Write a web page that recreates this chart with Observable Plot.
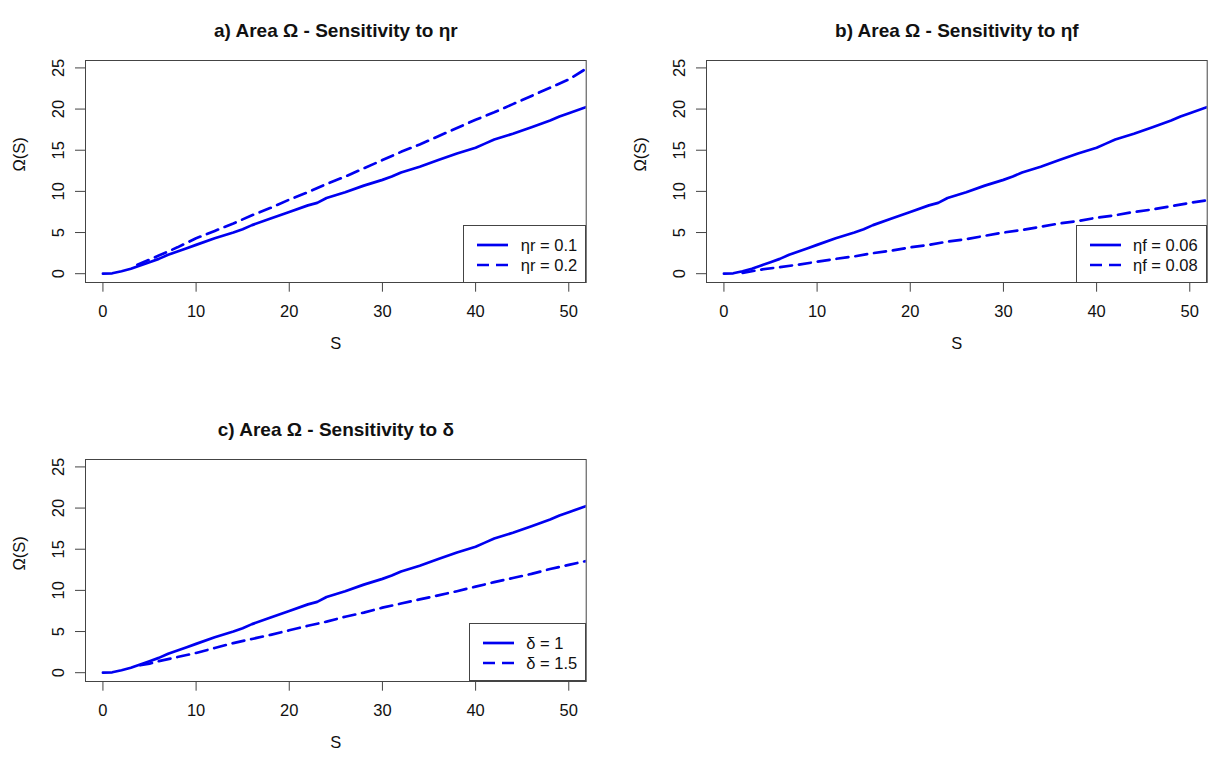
<!DOCTYPE html>
<html><head><meta charset="utf-8">
<script src="https://cdn.jsdelivr.net/npm/d3@7"></script>
<script src="https://cdn.jsdelivr.net/npm/@observablehq/plot@0.6"></script>
<style>
body{margin:0;background:#fff;}
#fig{position:relative;width:1209px;height:757px;overflow:hidden;font-family:"Liberation Sans",Arial,sans-serif;}
.panel{position:absolute;}
.panel svg{overflow:visible;}
.legend{position:absolute;box-sizing:border-box;border:1px solid #444;background:#fff;padding:9px 8px 8px 13px;font-size:16.5px;color:#111;line-height:20px;}
.row{display:flex;align-items:center;height:20px;white-space:nowrap;}
.row svg{margin-right:12.5px;display:block;}
</style></head><body><div id="fig"></div>
<script>
// ---- data ----
const xTicks = [0, 10, 20, 30, 40, 50];
const yTicks = [0, 5, 10, 15, 20, 25];
const titles = ["a) Area Ω - Sensitivity to ηr", "b) Area Ω - Sensitivity to ηf", "c) Area Ω - Sensitivity to δ"];
const baseLabels = ["ηr = 0.1", "ηf = 0.06", "δ = 1"];
const altLabels = ["ηr = 0.2", "ηf = 0.08", "δ = 1.5"];

// baseline curve (same in all panels)
const baseS = [0,1,2,3,4,5,6,7,8,9,10,12,14,15,16,18,20,22,23,24,26,28,30,31,32,34,36,38,40,41,42,44,46,48,49,50,52];
const baseOmega = [0,0.05,0.3,0.6,1.0,1.4,1.8,2.3,2.7,3.1,3.5,4.3,5.0,5.4,5.9,6.7,7.5,8.3,8.6,9.2,9.9,10.7,11.4,11.8,12.3,13.0,13.8,14.6,15.3,15.8,16.3,17.0,17.8,18.6,19.1,19.5,20.3];

// a) eta_r = 0.2
const etaR2S = [3.7,5,6,8,10,12,14,16,18,20,22,24,26,28,30,32,34,36,38,40,42,44,46,48,50,52];
const etaR2Omega = [1.1,1.7,2.2,3.2,4.3,5.2,6.1,7.1,8.0,9.0,9.9,10.9,11.8,12.8,13.8,14.8,15.7,16.7,17.7,18.7,19.6,20.6,21.6,22.6,23.6,25.0];

// b) eta_f = 0.08
const etaF8S = [2,3,4,6,8,10,12,14,16,18,20,22,24,26,28,30,32,34,36,38,40,42,44,46,48,50,52];
const etaF8Omega = [0.1,0.3,0.5,0.8,1.1,1.45,1.8,2.1,2.5,2.8,3.2,3.5,3.9,4.2,4.6,5.0,5.3,5.7,6.1,6.4,6.8,7.1,7.5,7.8,8.2,8.6,8.95];

// c) delta = 1.5
const delta15S = [4,5,6,8,10,12,14,16,18,20,22,24,26,28,30,32,34,36,38,40,42,44,46,48,50,52];
const delta15Omega = [0.9,1.1,1.4,1.9,2.4,3.0,3.6,4.1,4.6,5.15,5.7,6.2,6.8,7.3,7.9,8.4,8.9,9.4,9.9,10.45,11.0,11.5,12.0,12.6,13.1,13.6];

// ---- build ----
const rows = (S, O) => S.map((s, i) => ({S: s, omega: O[i]}));
const baseRows = rows(baseS, baseOmega);
const altRows = [rows(etaR2S, etaR2Omega), rows(etaF8S, etaF8Omega), rows(delta15S, delta15Omega)];

const BLUE = "#0000f0";
const LW = 2.7;
const DASH = "12,7";
const FS = 16.5;
const xDomain = [-1.87, 51.87];
const yDomain = [-1.07, 25.9];

const layout = [
  {left: 0, top: 0, width: 605, height: 378},
  {left: 620.5, top: 0, width: 588.5, height: 378},
  {left: 0, top: 398.5, width: 605, height: 358.5}
];
const ML = 85, MT = 60, IW = 500.7, IH = 222;

const fig = document.getElementById("fig");

layout.forEach((L, k) => {
  const div = document.createElement("div");
  div.className = "panel";
  div.style.left = L.left + "px";
  div.style.top = L.top + "px";
  div.style.width = L.width + "px";
  div.style.height = L.height + "px";
  const mr = L.width - ML - IW;
  const mb = L.height - MT - IH;
  const plot = Plot.plot({
    width: L.width, height: L.height,
    marginLeft: ML, marginRight: mr, marginTop: MT, marginBottom: mb,
    x: {domain: xDomain, label: null},
    y: {domain: yDomain, label: null},
    style: {fontFamily: '"Liberation Sans", Arial, sans-serif', fontSize: FS + "px", background: "transparent", color: "#000"},
    marks: [
      Plot.line(baseRows, {x: "S", y: "omega", stroke: BLUE, strokeWidth: LW, clip: true, strokeLinejoin: "round"}),
      Plot.line(altRows[k], {x: "S", y: "omega", stroke: BLUE, strokeWidth: LW, strokeDasharray: DASH, clip: true}),
      Plot.frame({stroke: "#444", strokeWidth: 1}),
      Plot.axisX({ticks: xTicks, tickSize: 9.7, tickPadding: 13.5, fontSize: FS, stroke: "#444", fill: "#111", label: null}),
      Plot.axisY({ticks: yTicks, tickSize: 10, tickPadding: 11.5, tickRotate: -90, fontSize: FS, stroke: "#444", fill: "#111", label: null}),
      Plot.text([titles[k]], {frameAnchor: "top", dy: -37.3, fontWeight: "bold", fontSize: 19, fill: "#111"}),
      Plot.text(["Ω(S)"], {frameAnchor: "left", dx: -66, rotate: -90, fontSize: FS, fill: "#111"}),
      Plot.text(["S"], {frameAnchor: "bottom", dy: 66.5, fontSize: FS, fill: "#111"})
    ]
  });
  div.appendChild(plot);

  // legend (HTML)
  const leg = document.createElement("div");
  leg.className = "legend";
  leg.style.right = (mr - 0.5) + "px";
  leg.style.bottom = (mb - 0.5) + "px";
  leg.style.height = "58px";
  [[baseLabels[k], null], [altLabels[k], DASH]].forEach(([lab, dash]) => {
    const r = document.createElement("div");
    r.className = "row";
    r.innerHTML = `<svg width="31" height="6"><line x1="0" x2="31" y1="3" y2="3" stroke="${BLUE}" stroke-width="${LW}" ${dash ? `stroke-dasharray="${dash}"` : ""}/></svg><span>${lab}</span>`;
    leg.appendChild(r);
  });
  div.appendChild(leg);
  fig.appendChild(div);
});
</script>
</body></html>
